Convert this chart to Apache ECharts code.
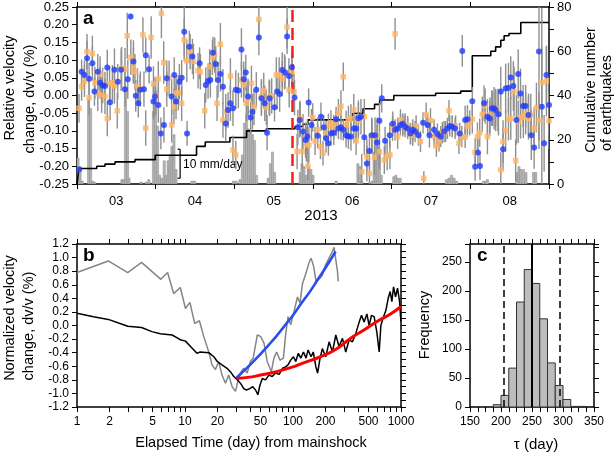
<!DOCTYPE html>
<html>
<head>
<meta charset="utf-8">
<script src="https://cdn.jsdelivr.net/npm/echarts@6/dist/echarts.min.js"></script>
<style>html,body{margin:0;padding:0;background:#fff}#c{width:615px;height:455px}</style>
</head>
<body>
<div id="c"></div>
<script>
// ---------------- DATA ----------------
// Panel a : days since 2013-03-01
const months = ['03','04','05','06','07','08'];
const dayMax = 184;
const mainshockDay = 83.8;
// [day, dv/v (%), error]
const blueDots = [
[0.8,-0.209,0.008],[1.8,0.067,0.035],[2.9,0.058,0.04],[3.9,0.105,0.05],[4.7,0.047,0.045],[6.0,0.091,0.05],[6.8,0.011,0.04],[8.1,0.067,0.05],[9.0,0.036,0.045],[10.0,0.028,0.05],
[10.9,0.027,0.04],[11.8,0.079,0.05],[12.9,-0.019,0.05],[14.6,0.073,0.06],[15.9,0.039,0.05],[17.2,0.073,0.06],[18.7,0.018,0.05],[19.8,0.046,0.055],[20.9,0.223,0.008],[22.0,0.096,0.06],
[22.9,-0.001,0.045],[23.9,-0.022,0.04],[24.6,0.016,0.045],[26.1,0.018,0.05],[26.8,0.114,0.05],[28.1,0.074,0.04],[29.8,-0.017,0.05],[30.4,-0.003,0.055],[31.7,-0.027,0.05],[32.7,-0.107,0.045],
[33.9,-0.083,0.05],[35.0,0.049,0.05],[36.9,-0.003,0.05],[37.9,0.058,0.05],[38.6,-0.017,0.05],[39.9,0.039,0.05],[40.8,0.050,0.05],[41.8,0.180,0.07],[42.9,-0.107,0.035],[43.8,0.138,0.045],
[45.0,0.110,0.05],[47.8,0.091,0.045],[50.2,0.030,0.05],[51.1,0.041,0.05],[52.0,0.044,0.05],[53.0,0.121,0.045],[54.1,0.089,0.05],[55.0,0.044,0.05],[55.9,0.061,0.05],[56.9,0.025,0.05],
[58.0,-0.079,0.05],[58.9,-0.041,0.05],[59.8,-0.022,0.05],[60.8,-0.036,0.05],[61.9,0.016,0.055],[62.9,0.014,0.05],[64.1,0.130,0.06],[65.0,0.046,0.05],[65.8,0.065,0.05],[66.7,-0.003,0.05],
[67.7,-0.062,0.045],[68.4,-0.046,0.05],[69.9,0.016,0.05],[70.9,0.164,0.05],[71.9,-0.008,0.05],[73.2,-0.022,0.05],[74.1,-0.105,0.05],[75.1,-0.008,0.05],[77.0,-0.033,0.04],[78.0,0.011,0.05],
[79.0,0.004,0.05],[80.0,0.072,0.05],[81.1,0.065,0.045],[81.9,0.167,0.05],[82.6,0.055,0.05],[83.8,0.080,0.05],[84.8,-0.006,0.05],[86.1,-0.090,0.05],[86.8,-0.069,0.05],[88.1,-0.102,0.05],
[89.1,-0.126,0.05],[89.8,-0.116,0.05],[90.3,-0.020,0.04],[91.4,-0.083,0.045],[93.8,-0.114,0.035],[95.1,-0.060,0.04],[96.2,-0.090,0.035],[97.1,-0.121,0.04],[98.0,-0.135,0.035],[99.0,-0.107,0.035],
[100.1,-0.105,0.035],[101.0,-0.067,0.035],[101.9,-0.093,0.03],[102.9,-0.090,0.035],[103.8,-0.097,0.03],[104.9,-0.112,0.035],[105.8,-0.116,0.035],[106.8,-0.116,0.04],[107.9,-0.093,0.04],[108.8,-0.093,0.04],
[109.7,-0.064,0.05],[110.7,-0.060,0.05],[112.0,-0.118,0.05],[113.0,-0.192,0.05],[114.0,-0.157,0.05],[114.9,-0.112,0.05],[116.2,-0.112,0.05],[117.0,-0.133,0.05],[117.9,-0.071,0.05],[118.8,-0.008,0.04],
[120.1,-0.128,0.04],[121.9,-0.112,0.035],[123.1,-0.080,0.035],[124.0,-0.097,0.03],[125.0,-0.093,0.03],[126.1,-0.083,0.03],[127.0,-0.080,0.03],[127.9,-0.088,0.03],[128.9,-0.093,0.03],[130.0,-0.107,0.03],
[130.9,-0.097,0.03],[131.8,-0.102,0.03],[133.1,-0.112,0.03],[134.9,-0.077,0.03],[136.7,-0.083,0.03],[137.4,-0.112,0.035],[139.2,-0.097,0.03],[140.5,-0.109,0.03],[141.8,-0.116,0.03],[143.1,-0.102,0.03],
[144.4,-0.093,0.03],[145.3,-0.086,0.03],[146.3,-0.088,0.03],[147.4,-0.093,0.03],[149.2,-0.107,0.03],[150.2,0.126,0.045],[151.3,-0.069,0.04],[152.2,-0.067,0.04],[154.1,-0.016,0.04],[155.2,-0.201,0.04],
[156.3,-0.161,0.04],[157.1,-0.199,0.04],[158.7,-0.022,0.05],[160.0,-0.060,0.05],[160.9,-0.065,0.05],[161.7,-0.036,0.05],[162.6,-0.036,0.06],[163.2,-0.041,0.06],[164.3,-0.053,0.06],[165.2,0.011,0.07],
[166.1,-0.152,0.06],[167.1,0.020,0.07],[168.2,0.022,0.07],[169.1,0.051,0.06],[170.1,0.027,0.07],[171.3,-0.069,0.07],[172.0,0.061,0.07],[172.9,0.006,0.07],[173.9,-0.030,0.06],[174.9,-0.030,0.06],
[176.0,-0.055,0.06],[177.1,-0.112,0.07],[178.2,-0.147,0.06],[180.1,0.124,0.25],[181.2,-0.032,0.28],[182.1,-0.135,0.08],[183.0,0.058,0.08],[184.0,-0.027,0.08]
];
const orangeDots = [
[0.8,-0.036,0.04],[1.8,0.025,0.04],[2.9,0.041,0.045],[3.9,0.124,0.05],[4.7,-0.006,0.05],[6.0,0.119,0.05],[7.0,0.036,0.045],[8.1,0.006,0.05],[9.0,0.061,0.05],[9.6,0.001,0.05],
[10.9,-0.003,0.05],[11.8,-0.065,0.05],[12.7,0.033,0.05],[13.8,0.036,0.05],[14.6,0.027,0.05],[15.7,-0.043,0.05],[17.4,0.077,0.06],[18.7,0.074,0.06],[19.6,0.169,0.065],[21.0,0.108,0.05],
[22.0,0.083,0.05],[22.6,0.067,0.05],[23.6,0.027,0.05],[24.7,0.018,0.05],[25.7,0.171,0.05],[26.8,-0.092,0.05],[28.9,0.164,0.06],[29.8,0.033,0.05],[30.7,-0.003,0.05],[31.7,0.047,0.05],
[32.9,0.232,0.07],[33.8,0.093,0.06],[35.0,0.018,0.05],[35.9,0.049,0.05],[36.9,-0.083,0.05],[37.8,-0.031,0.05],[38.6,0.006,0.05],[39.5,0.008,0.05],[40.8,-0.022,0.05],[41.8,0.157,0.06],
[42.8,0.098,0.06],[44.1,0.124,0.05],[45.4,0.096,0.05],[47.2,0.070,0.05],[48.1,0.067,0.05],[49.8,-0.043,0.05],[51.7,0.081,0.05],[52.8,0.108,0.05],[53.7,0.114,0.05],[54.6,-0.022,0.05],
[55.9,0.145,0.06],[56.9,-0.069,0.05],[58.0,-0.046,0.05],[59.8,0.055,0.05],[60.8,-0.154,0.04],[61.9,-0.168,0.04],[64.1,0.044,0.05],[65.0,0.030,0.05],[66.0,-0.022,0.05],[66.7,-0.008,0.05],
[68.0,0.034,0.05],[69.0,-0.033,0.05],[70.9,0.215,0.06],[71.9,-0.003,0.05],[72.8,0.014,0.05],[73.8,-0.033,0.05],[74.9,-0.005,0.05],[75.9,-0.001,0.05],[77.7,0.058,0.05],[78.8,0.058,0.05],
[80.0,0.048,0.05],[80.9,0.067,0.05],[81.9,0.193,0.06],[82.7,0.016,0.05],[83.8,0.065,0.05],[84.6,0.011,0.05],[85.8,-0.158,0.05],[87.0,-0.065,0.05],[87.8,-0.158,0.05],[89.4,-0.137,0.05],
[90.0,-0.200,0.04],[90.4,-0.140,0.05],[91.9,-0.062,0.04],[92.8,-0.128,0.04],[93.8,-0.097,0.035],[94.9,-0.145,0.035],[95.9,-0.163,0.035],[97.1,-0.107,0.035],[98.0,-0.086,0.035],[99.0,-0.077,0.035],
[100.1,-0.090,0.035],[101.0,-0.080,0.035],[101.9,-0.050,0.04],[102.9,-0.030,0.045],[103.8,0.053,0.04],[104.9,-0.083,0.04],[105.8,-0.069,0.04],[106.8,-0.065,0.04],[107.9,-0.041,0.045],[108.8,-0.128,0.04],
[109.7,-0.071,0.05],[111.0,-0.215,0.05],[112.0,-0.060,0.05],[113.0,-0.173,0.05],[114.0,-0.220,0.05],[115.0,-0.116,0.05],[116.0,-0.175,0.05],[117.0,-0.112,0.05],[117.9,-0.159,0.05],[119.8,-0.182,0.04],
[120.9,-0.171,0.04],[122.0,-0.168,0.04],[123.0,-0.093,0.035],[124.0,0.174,0.045],[125.0,-0.116,0.035],[126.1,-0.069,0.03],[127.0,-0.086,0.03],[127.9,-0.080,0.03],[128.9,-0.088,0.03],[130.0,-0.109,0.03],
[130.9,-0.112,0.03],[132.2,-0.086,0.03],[133.9,-0.130,0.03],[135.2,-0.234,0.02],[136.1,-0.055,0.035],[137.8,-0.071,0.035],[139.2,-0.116,0.03],[140.1,-0.143,0.03],[141.1,-0.128,0.03],[142.4,-0.105,0.03],
[143.7,-0.102,0.03],[145.0,-0.043,0.03],[146.3,-0.086,0.03],[147.6,-0.086,0.03],[148.9,-0.135,0.03],[150.0,-0.116,0.03],[151.3,-0.118,0.03],[152.2,-0.088,0.03],[153.1,-0.077,0.035],[154.1,-0.067,0.04],
[155.2,-0.161,0.04],[156.1,-0.116,0.04],[157.0,-0.105,0.04],[158.0,-0.053,0.05],[159.1,-0.030,0.05],[160.0,-0.116,0.05],[161.0,-0.055,0.05],[162.0,-0.036,0.05],[163.2,-0.036,0.05],[164.1,-0.041,0.06],
[165.2,-0.210,0.05],[166.1,-0.130,0.06],[167.1,-0.099,0.06],[168.2,-0.067,0.06],[169.1,-0.065,0.06],[170.4,0.011,0.07],[171.0,-0.184,0.06],[172.0,-0.074,0.06],[172.9,-0.062,0.06],[174.0,-0.060,0.06],
[174.9,-0.050,0.06],[176.0,-0.065,0.06],[176.9,-0.055,0.06],[178.2,-0.093,0.06],[179.1,-0.034,0.07],[180.1,-0.071,0.08],[181.2,0.036,0.1],[183.0,0.041,0.1],[184.0,-0.071,0.08]
];
// daily rainfall (mm/day)
const rainDays = [0.4,1.2,2.0,4.5,5.3,6.2,7.0,17.5,18.3,18.9,19.7,20.3,25.0,27.0,28.0,29.8,30.6,31.4,32.2,33.0,34.0,34.7,35.5,36.3,37.0,37.8,38.6,44.8,45.8,61.0,62.0,63.5,64.5,65.3,66.1,66.9,67.6,68.4,69.2,70.0,74.5,75.4,76.2,77.0,87.0,87.7,88.5,89.3,90.3,91.2,92.0,101.0,109.5,110.3,111.0,115.0,115.8,116.6,117.2,117.9,118.6,123.5,124.3,125.0,126.0,144.0,145.0,146.0,147.0,148.0,158.5,159.5,160.0,171.5,172.3,173.0,174.0,175.0,178.0,178.8];
const rainMM   = [9,6,1,29,26,1,0.5,1.5,1.5,33,25,2,0.7,0.7,1.5,25,32,20,3,2,8,3,8,10,13,17,5,1,1,1,1,1.5,10,21,24,19,18,17,15,3,2,7,11,4,4,7,6,3,6,5,3,1,7,6,1,1,11,9,13,12,3,2.5,3,2,2,1.5,2,3,2,1,1,1,1.5,4,6,5,5,4,4,4];
// cumulative number of earthquakes
const stepDays   = [0,0.7,7.7,10.9,14.8,22.6,30.5,46.6,50.0,59.6,66.1,73.8,85.0,88.0,90.0,107.6,111.5,116.0,118.0,123.5,139.8,149.6,154.1,161.3,163.2,165.2,166.5,168.4,173.0,184];
const stepCounts = [0,7,8,9,10,11,13,17,19,21,24,25,26,27,29,32,34,36,38,40,41,42,58,60,62,65,67,68,73,73];
const scaleBarDay = 40.2, scaleBarMM = [2, 12];

// Panel b : elapsed time (day) from mainshock
const grayT = [1,1.95,2.95,3.96,5.98,6.9,7.85,9.05,10.1,11.1,12.3,13.6,14.9,16.6,17.8,19.1,20.5,22,23.7,25.4,27.3,29.3,30.8,32.6,35,37.6,40.3,42.8,46.7,50.1,53.9,57.7,63,66.6,70.5,75.8,81.5,85.4,89.9,95.2,102,110,116,122.5,131.8,141.8,147.2,155.4,163.3,175.6,187,200,215,232,240,249,258,262];
const grayV = [0.78,0.95,0.78,0.93,0.68,0.78,0.47,0.56,0.25,0.34,0.03,0.07,-0.16,-0.39,-0.58,-0.65,-0.53,-0.73,-0.85,-0.73,-0.90,-0.97,-0.83,-0.70,-0.63,-0.70,-0.53,-0.48,-0.14,-0.16,-0.26,-0.53,-0.68,-0.48,-0.39,-0.51,-0.48,-0.14,0.13,0.01,0.20,0.42,0.33,0.62,0.77,0.94,0.99,0.87,0.65,0.69,0.74,0.89,0.99,1.09,1.15,0.97,0.80,0.65];
const blackT = [1,1.42,1.95,2.5,2.95,3.96,4.94,5.9,7.6,8.4,9.05,10.1,11.6,12.9,13.8,16.6,18.5,19.9,22,24.5,26.3,28.3,30.4,32.6,35,37,39.8,42.4,45,47.3,49.4,52,55.7,59.8,64.2,69.1,74.4,80,85.4,89.9,95.2,101,106,112,118,125,132,138,147,154,163,169,178,187,201,216,232,249,267,287,308,331,355,381,410,431,456,483,507,533,564,598,628,651,689,724,761,794,823,853,890,929,970,998];
const blackV = [0.18,0.13,0.09,0.03,-0.01,-0.03,-0.09,-0.12,-0.14,-0.18,-0.21,-0.23,-0.33,-0.41,-0.39,-0.40,-0.46,-0.53,-0.58,-0.63,-0.68,-0.75,-0.80,-0.85,-0.93,-0.95,-0.93,-0.90,-0.95,-1.02,-0.88,-0.78,-0.80,-0.73,-0.75,-0.70,-0.72,-0.63,-0.61,-0.58,-0.51,-0.46,-0.53,-0.41,-0.48,-0.39,-0.48,-0.36,-0.46,-0.39,-0.61,-0.70,-0.48,-0.34,-0.46,-0.24,-0.39,-0.14,-0.31,-0.19,-0.39,-0.21,-0.24,-0.12,0.05,0.15,0.05,0.17,0.00,0.15,0.13,-0.10,-0.39,0.00,0.13,0.22,0.40,0.50,0.35,0.57,0.42,0.55,0.35,0.06];
const blueFitT = [30,40,50,60,70,85,100,120,145,170,200,248];
const blueFitV = [-0.77,-0.58,-0.42,-0.28,-0.16,0.01,0.15,0.33,0.51,0.68,0.85,1.09];
const redFitT = [30,40,50,70,100,120,180,250,340,450,600,800,1000];
const redFitV = [-0.78,-0.76,-0.73,-0.68,-0.61,-0.56,-0.46,-0.35,-0.19,-0.07,0.06,0.17,0.28];
const logLabelVals = [1,2,5,10,20,50,100,200,500,1000];
const logTickVals = [1,2,3,4,5,6,7,8,9,10,20,30,40,50,60,70,80,90,100,200,300,400,500,600,700,800,900,1000];

// Panel c : histogram of tau
const tauEdges  = [187.5,200,212.5,225,237.5,250,262.5,275,287.5,300,312.5,325,337.5];
const tauCounts = [4,20,67,181,237,213,152,76,37,13,1,1];
const tauMean = 250, tauLow = 204, tauHigh = 294;

// ---------------- CHART ----------------
const FT = 'Liberation Sans, Arial, Helvetica, sans-serif';
const black = '#000';
const axLine = {show:true, onZero:false, lineStyle:{color:black, width:1.5}};
const tick = (extra) => Object.assign({show:true, inside:false, length:5, lineStyle:{color:black, width:1}}, extra||{});
const lbl = (size, extra) => Object.assign({color:black, fontFamily:FT, fontSize:size}, extra||{});
const lg = v => Math.log10(v);

const chart = echarts.init(document.getElementById('c'), null, {renderer:'canvas'});

const errRender = (params, api) => {
  const d = api.value(0), v = api.value(1), e = api.value(2);
  const p0 = api.coord([d, v - e]), p1 = api.coord([d, v + e]);
  return {type:'line', shape:{x1:p0[0], y1:p0[1], x2:p1[0], y2:p1[1]}, style:{stroke:'#8f8f8f', lineWidth:1.4}};
};

const option = {
  animation:false,
  backgroundColor:'#fff',
  grid:[
    {left:77, top:7, width:472, height:177},
    {left:77, top:244, width:324, height:163},
    {left:470, top:244, width:124, height:163}
  ],
  xAxis:[
    {type:'category', gridIndex:0, data:months, position:'bottom', boundaryGap:true,
     axisLine:axLine, axisTick:tick({alignWithLabel:false}), axisLabel:lbl(13,{margin:11}), splitLine:{show:false}},
    {type:'category', gridIndex:0, data:months, position:'top', boundaryGap:true,
     axisLine:axLine, axisTick:tick({alignWithLabel:false}), axisLabel:{show:false}, splitLine:{show:false}},
    {type:'value', gridIndex:0, min:0, max:dayMax, show:false},
    {type:'value', gridIndex:1, min:0, max:3, position:'bottom',
     axisLine:axLine,
     axisTick:tick({customValues:logTickVals.map(lg)}),
     axisLabel:lbl(12,{margin:9, customValues:logLabelVals.map(lg), formatter:v=>String(Math.round(Math.pow(10,v)))}),
     splitLine:{show:false}},
    {type:'value', gridIndex:1, min:0, max:3, position:'top',
     axisLine:axLine, axisTick:tick({customValues:logTickVals.map(lg)}), axisLabel:{show:false}, splitLine:{show:false}},
    {type:'value', gridIndex:2, min:150, max:350, interval:50, position:'bottom',
     axisLine:axLine, axisTick:tick(), minorTick:{show:true, splitNumber:4, length:5, lineStyle:{color:black}},
     axisLabel:lbl(12,{margin:9, showMinLabel:true, showMaxLabel:true}), splitLine:{show:false}, minorSplitLine:{show:false}},
    {type:'value', gridIndex:2, min:150, max:350, interval:50, position:'top',
     axisLine:axLine, axisTick:tick(), minorTick:{show:true, splitNumber:4, length:5, lineStyle:{color:black}},
     axisLabel:{show:false}, splitLine:{show:false}}
  ],
  yAxis:[
    {type:'value', gridIndex:0, min:-0.25, max:0.25, interval:0.05, position:'left',
     axisLine:axLine, axisTick:tick(), axisLabel:lbl(13,{margin:8, formatter:v=>(Math.abs(v)<1e-9?0:v).toFixed(2)}), splitLine:{show:false}},
    {type:'value', gridIndex:0, min:0, max:80, interval:20, position:'right',
     axisLine:axLine, axisTick:tick(), minorTick:{show:true, splitNumber:2, length:5, lineStyle:{color:black}},
     axisLabel:lbl(13,{margin:8}), splitLine:{show:false}},
    {type:'value', gridIndex:0, min:0, max:61, show:false},
    {type:'value', gridIndex:1, min:-1.2, max:1.2, interval:0.2, position:'left',
     axisLine:axLine, axisTick:tick(), axisLabel:lbl(12,{margin:8, formatter:v=>(Math.abs(v)<1e-9?0:v).toFixed(1)}), splitLine:{show:false}},
    {type:'value', gridIndex:1, min:-1.2, max:1.2, interval:0.1, position:'right',
     axisLine:axLine, axisTick:tick(), axisLabel:{show:false}, splitLine:{show:false}},
    {type:'value', gridIndex:2, min:0, max:281, interval:50, position:'left',
     axisLine:axLine, axisTick:tick(), axisLabel:lbl(12,{margin:8, formatter:v=>(v%50===0?String(v):'')}), splitLine:{show:false}},
    {type:'value', gridIndex:2, min:0, max:281, interval:50, position:'right',
     axisLine:axLine, axisTick:tick(), minorTick:{show:true, splitNumber:2, length:5, lineStyle:{color:black}},
     axisLabel:{show:false}, splitLine:{show:false}}
  ],
  series:[
    // rainfall bars
    {type:'custom', xAxisIndex:2, yAxisIndex:2, clip:true, z:1,
     data: rainDays.map((d,i)=>[d, rainMM[i]]),
     encode:{x:0, y:1},
     renderItem:(params, api)=>{
       const d = api.value(0), m = api.value(1);
       const p0 = api.coord([d-0.42, 0]), p1 = api.coord([d+0.42, m]);
       return {type:'rect', shape:{x:p0[0], y:p1[1], width:p1[0]-p0[0], height:p0[1]-p1[1]},
               style:{fill:'#b4b4b4', stroke:'#8a8a8a', lineWidth:0.5}};
     }},
    // 10 mm/day scale bar
    {type:'custom', xAxisIndex:2, yAxisIndex:2, z:2,
     data:[[scaleBarDay, scaleBarMM[0], scaleBarMM[1]]],
     encode:{x:0, y:[1,2]},
     renderItem:(params, api)=>{
       const d = api.value(0);
       const p0 = api.coord([d, api.value(1)]), p1 = api.coord([d, api.value(2)]);
       return {type:'group', children:[
         {type:'line', shape:{x1:p0[0], y1:p0[1], x2:p1[0], y2:p1[1]}, style:{stroke:black, lineWidth:1.2}},
         {type:'line', shape:{x1:p0[0]-2.5, y1:p0[1], x2:p0[0], y2:p0[1]}, style:{stroke:black, lineWidth:1.2}},
         {type:'line', shape:{x1:p1[0]-2.5, y1:p1[1], x2:p1[0], y2:p1[1]}, style:{stroke:black, lineWidth:1.2}},
         {type:'text', x:p0[0]+3, y:(p0[1]+p1[1])/2+1, style:{text:'10 mm/day', fill:black, font:'12px '+FT, verticalAlign:'middle', align:'left'}}
       ]};
     }},
    // cumulative earthquakes
    {type:'line', xAxisIndex:2, yAxisIndex:1, step:'end', symbol:'none', z:3,
     data: stepDays.map((d,i)=>[d, stepCounts[i]]),
     lineStyle:{color:black, width:1.6},
     markLine:{silent:true, symbol:'none', label:{show:false},
       lineStyle:{color:'#ff1a1a', width:2.5, type:[12,6]},
       data:[{xAxis:mainshockDay}]}},
    // error bars
    {type:'custom', xAxisIndex:2, yAxisIndex:0, clip:true, z:4, data:orangeDots, encode:{x:0,y:1}, renderItem:errRender},
    {type:'custom', xAxisIndex:2, yAxisIndex:0, clip:true, z:4, data:blueDots, encode:{x:0,y:1}, renderItem:errRender},
    // points
    {type:'scatter', xAxisIndex:2, yAxisIndex:0, z:5, symbol:'rect', symbolSize:5.5,
     data: orangeDots.map(p=>[p[0],p[1]]), itemStyle:{color:'#ffb562'}},
    {type:'scatter', xAxisIndex:2, yAxisIndex:0, z:6, symbol:'circle', symbolSize:6,
     data: blueDots.map(p=>[p[0],p[1]]), itemStyle:{color:'#1f3cff'}},
    // panel b
    {type:'line', xAxisIndex:3, yAxisIndex:3, symbol:'none', z:3,
     data: grayT.map((t,i)=>[lg(t), grayV[i]]), lineStyle:{color:'#858585', width:1.5}},
    {type:'line', xAxisIndex:3, yAxisIndex:3, symbol:'none', z:3,
     data: blackT.map((t,i)=>[lg(t), blackV[i]]), lineStyle:{color:black, width:1.5}},
    {type:'line', xAxisIndex:3, yAxisIndex:3, symbol:'none', smooth:true, z:4,
     data: blueFitT.map((t,i)=>[lg(t), blueFitV[i]]), lineStyle:{color:'#2b4cf0', width:2.6}},
    {type:'line', xAxisIndex:3, yAxisIndex:3, symbol:'none', smooth:true, z:4,
     data: redFitT.map((t,i)=>[lg(t), redFitV[i]]), lineStyle:{color:'#ff0000', width:3}},
    // panel c histogram
    {type:'custom', xAxisIndex:5, yAxisIndex:5, z:2,
     data: tauCounts.map((c,i)=>[tauEdges[i], tauEdges[i+1], c]),
     encode:{x:[0,1], y:2},
     renderItem:(params, api)=>{
       const p0 = api.coord([api.value(0), 0]), p1 = api.coord([api.value(1), api.value(2)]);
       return {type:'rect', shape:{x:p0[0], y:p1[1], width:p1[0]-p0[0], height:p0[1]-p1[1]},
               style:{fill:'#bdbdbd', stroke:'#333', lineWidth:1}};
     },
     markLine:{silent:true, symbol:'none', label:{show:false},
       data:[
         {xAxis:tauLow, lineStyle:{color:black, width:1.5, type:[7,4]}},
         {xAxis:tauMean, lineStyle:{color:black, width:2, type:'solid'}},
         {xAxis:tauHigh, lineStyle:{color:black, width:1.5, type:[7,4]}}
       ]}}
  ],
  graphic:[
    {type:'text', x:83, y:19, style:{text:'a', font:'bold 19px '+FT, fill:black, verticalAlign:'middle'}},
    {type:'text', x:83, y:256, style:{text:'b', font:'bold 19px '+FT, fill:black, verticalAlign:'middle'}},
    {type:'text', x:477, y:256, style:{text:'c', font:'bold 19px '+FT, fill:black, verticalAlign:'middle'}},
    {type:'text', x:321, y:216, style:{text:'2013', font:'15px '+FT, fill:black, align:'center', verticalAlign:'middle'}},
    {type:'text', x:10, y:88, rotation:Math.PI/2, style:{text:'Relative velocity', font:'14.5px '+FT, fill:black, align:'center', verticalAlign:'middle'}},
    {type:'text', x:30, y:99, rotation:Math.PI/2, style:{text:'change, dv/v (%)', font:'14.5px '+FT, fill:black, align:'center', verticalAlign:'middle'}},
    {type:'text', x:591, y:90, rotation:Math.PI/2, style:{text:'Cumulative number', font:'14.5px '+FT, fill:black, align:'center', verticalAlign:'middle'}},
    {type:'text', x:607, y:103, rotation:Math.PI/2, style:{text:'of earthquakes', font:'14.5px '+FT, fill:black, align:'center', verticalAlign:'middle'}},
    {type:'text', x:10, y:318, rotation:Math.PI/2, style:{text:'Normalized velocity', font:'14.5px '+FT, fill:black, align:'center', verticalAlign:'middle'}},
    {type:'text', x:29, y:326, rotation:Math.PI/2, style:{text:'change, dv/v (%)', font:'14.5px '+FT, fill:black, align:'center', verticalAlign:'middle'}},
    {type:'text', x:251, y:443, style:{text:'Elapsed Time (day) from mainshock', font:'14.5px '+FT, fill:black, align:'center', verticalAlign:'middle'}},
    {type:'text', x:425, y:325, rotation:Math.PI/2, style:{text:'Frequency', font:'14.5px '+FT, fill:black, align:'center', verticalAlign:'middle'}},
    {type:'text', x:536, y:445, style:{text:'τ (day)', font:'15px '+FT, fill:black, align:'center', verticalAlign:'middle'}}
  ]
};
chart.setOption(option);
</script>
</body>
</html>
